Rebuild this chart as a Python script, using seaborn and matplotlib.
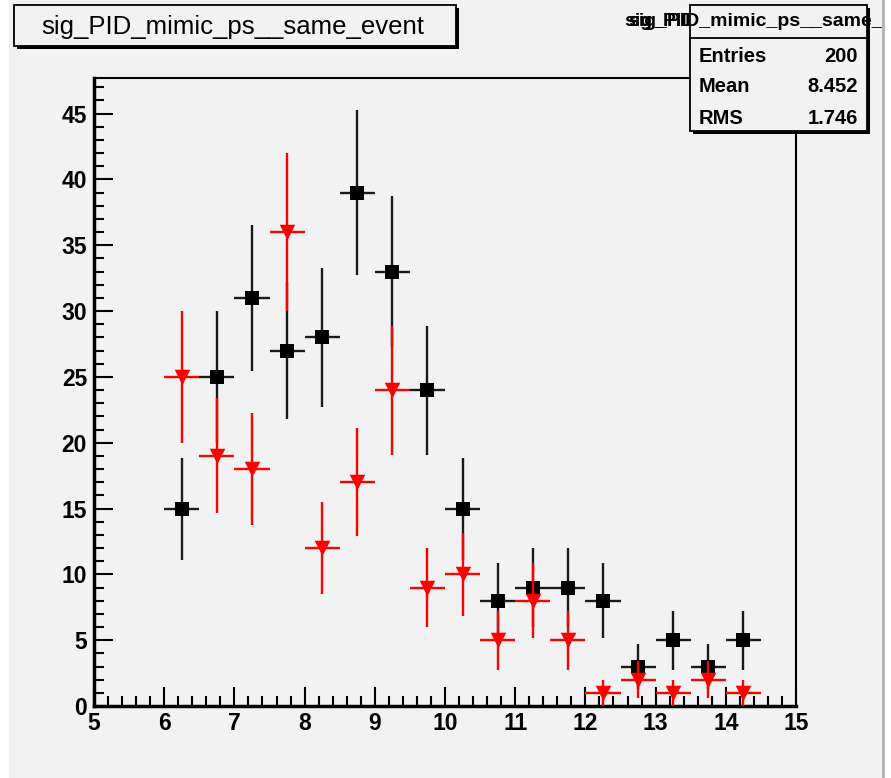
import numpy as np
import pandas as pd
import matplotlib
matplotlib.use("Agg")
import matplotlib.pyplot as plt
import seaborn as sns
from matplotlib.patches import Rectangle
from matplotlib.lines import Line2D
from matplotlib.ticker import MultipleLocator

# ---------------- data ----------------
bin_centers = [6.25, 6.75, 7.25, 7.75, 8.25, 8.75, 9.25, 9.75, 10.25,
               10.75, 11.25, 11.75, 12.25, 12.75, 13.25, 13.75, 14.25]
black_counts = [15, 25, 31, 27, 28, 39, 33, 24, 15, 8, 9, 9, 8, 3, 5, 3, 5]
red_counts = [25, 19, 18, 36, 12, 17, 24, 9, 10, 5, 8, 5, 1, 2, 1, 2, 1]
bin_half_width = 0.25
x_ticks = list(range(5, 16))
y_ticks = list(range(0, 50, 5))
title_text = "sig_PID_mimic_ps__same_event"
stat_labels = ["Entries", "Mean", "RMS"]
stat_values = ["200", "8.452", "1.746"]

df_black = pd.DataFrame({"x": bin_centers, "count": black_counts})
df_red = pd.DataFrame({"x": bin_centers, "count": red_counts})

# ---------------- style ----------------
sns.set_theme(style="white")
plt.rcParams["font.family"] = ["Liberation Sans", "DejaVu Sans"]
plt.rcParams["text.color"] = "black"
plt.rcParams["xtick.color"] = "black"
plt.rcParams["ytick.color"] = "black"
plt.rcParams["xtick.labelcolor"] = "black"
plt.rcParams["ytick.labelcolor"] = "black"

W, H = 891, 778
BG = "#f2f2f2"


def fx(px):
    return px / W


def fy(py):
    return 1 - py / H


fig = plt.figure(figsize=(W / 100, H / 100), dpi=100, facecolor="white")
canvas = Rectangle((fx(9), 0), fx(882) - fx(9), 1, transform=fig.transFigure,
                   facecolor=BG, edgecolor="none", zorder=-5)
fig.patches.append(canvas)
fig.add_artist(Line2D([fx(883), fx(883)], [0, 1], transform=fig.transFigure,
                      color="#b0b0b0", lw=2, zorder=-4))

ax = fig.add_axes([fx(94), fy(706), fx(796) - fx(94), fy(78) - fy(706)])
ax.set_facecolor(BG)
ax.set_zorder(1)

# black series
ax.errorbar(df_black["x"], df_black["count"], xerr=bin_half_width,
            yerr=np.sqrt(df_black["count"]), fmt="none", ecolor="#1a1a1a",
            elinewidth=1.7, capsize=0, zorder=2)
sns.scatterplot(data=df_black, x="x", y="count", marker="s", color="black",
                s=110, linewidth=0, ax=ax, zorder=3, legend=False)
# red series
ax.errorbar(df_red["x"], df_red["count"], xerr=bin_half_width,
            yerr=np.sqrt(df_red["count"]), fmt="none", ecolor="#ff0000",
            elinewidth=1.7, capsize=0, zorder=4)
sns.scatterplot(data=df_red, x="x", y="count", marker="v", color="#ff0000",
                s=125, linewidth=0, ax=ax, zorder=5, legend=False)

ax.set_xlim(5, 15)
ax.set_ylim(0, 47.7)
ax.set_xlabel("")
ax.set_ylabel("")
ax.set_xticks(x_ticks)
ax.set_xticklabels([str(t) for t in x_ticks])
ax.set_yticks(y_ticks)
ax.set_yticklabels([str(t) for t in y_ticks])
ax.xaxis.set_minor_locator(MultipleLocator(0.2))
ax.yaxis.set_minor_locator(MultipleLocator(1))
ax.tick_params(axis="both", which="major", direction="in", length=14,
               width=1.5, color="black", labelcolor="black", labelsize=16.5)
ax.tick_params(axis="both", which="minor", direction="in", length=7,
               width=1.5, color="black")
ax.tick_params(axis="x", which="both", bottom=True, top=False, pad=4)
ax.tick_params(axis="y", which="both", left=True, right=False, pad=5)
for lab in ax.get_xticklabels() + ax.get_yticklabels():
    lab.set_fontweight("bold")
for side in ["top", "right"]:
    ax.spines[side].set_linewidth(1.5)
    ax.spines[side].set_color("black")
for side in ["left", "bottom"]:
    ax.spines[side].set_linewidth(2.5)
    ax.spines[side].set_color("black")

# ---------------- title box ----------------
def fig_box(x0, y0, x1, y1, z):
    sh = Rectangle((fx(x0 + 3), fy(y1 + 3)), fx(x1) - fx(x0), fy(y0) - fy(y1),
                   transform=fig.transFigure, facecolor="black",
                   edgecolor="none", zorder=z)
    bx = Rectangle((fx(x0), fy(y1)), fx(x1) - fx(x0), fy(y0) - fy(y1),
                   transform=fig.transFigure, facecolor=BG,
                   edgecolor="black", lw=1.3, zorder=z + 0.1)
    fig.add_artist(sh)
    fig.add_artist(bx)


fig_box(14, 5, 456, 46, 10)
fig.text(fx(233), fy(27), title_text, ha="center", va="center",
         fontsize=18.5, color="black", zorder=11)

# ---------------- stat box ----------------
fig_box(690, 5, 867, 131, 10)
fig.add_artist(Line2D([fx(690), fx(867)], [fy(38), fy(38)],
                      transform=fig.transFigure, color="black", lw=1.3,
                      zorder=11))
clip_all = Rectangle((fx(9), 0), fx(882) - fx(9), 1, transform=fig.transFigure)
clip_left = Rectangle((0, 0), fx(690), 1, transform=fig.transFigure)
t2 = fig.text(fx(781) - 4 / W, fy(22), title_text, ha="center", va="center",
              fontsize=14, fontweight="bold", color="black", zorder=12)
t2.set_clip_path(clip_left)
t1 = fig.text(fx(781), fy(22), title_text, ha="center", va="center",
              fontsize=14, fontweight="bold", color="black", zorder=12)
t1.set_clip_path(clip_all)

row_y = [56, 87, 118]
for lab, val, ry in zip(stat_labels, stat_values, row_y):
    fig.text(fx(699), fy(ry), lab, ha="left", va="center", fontsize=14.5,
             fontweight="bold", color="black", zorder=12)
    fig.text(fx(858), fy(ry), val, ha="right", va="center", fontsize=14.5,
             fontweight="bold", color="black", zorder=12)

fig.savefig("out.png", dpi=100, facecolor="white")
